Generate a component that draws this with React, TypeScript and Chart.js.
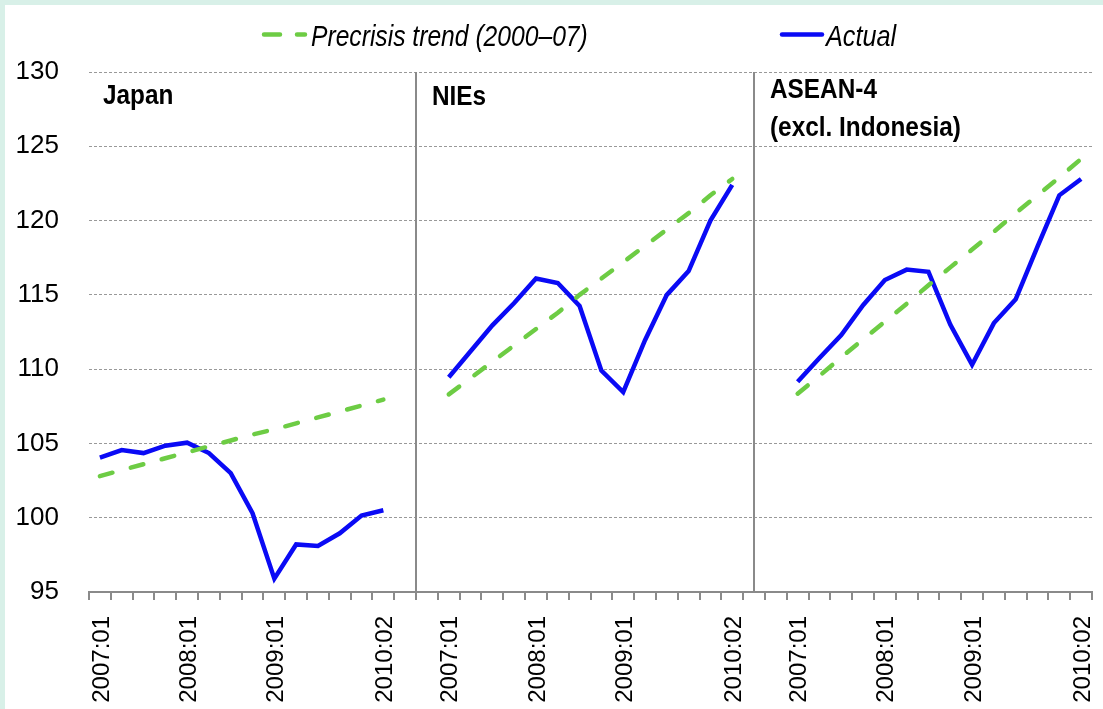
import React, { useEffect, useRef } from "react";
import { Chart, registerables } from "chart.js";

Chart.register(...registerables);

const FONT = "'Liberation Sans', Arial, sans-serif";

// Quarters for each panel
const quarters = [
  "2007:01", "2007:02", "2007:03", "2007:04",
  "2008:01", "2008:02", "2008:03", "2008:04",
  "2009:01", "2009:02", "2009:03", "2009:04",
  "2010:01", "2010:02",
];
const gap = ["", ""];
const categories = [...quarters, ...gap, ...quarters, ...gap, ...quarters];
const shownLabels = ["2007:01", "2008:01", "2009:01", "2010:02"];

const panelTitles = ["Japan", "NIEs", "ASEAN-4", "(excl. Indonesia)"];
const legendLabels = ["Precrisis trend (2000\u201307)", "Actual"];

const japanTrend = [102.8, 103.2, 103.6, 104.0, 104.4, 104.8, 105.2, 105.6, 105.95, 106.35, 106.75, 107.15, 107.55, 107.95];
const japanActual = [104.05, 104.55, 104.35, 104.85, 105.05, 104.35, 103.0, 100.3, 95.9, 98.2, 98.1, 98.95, 100.15, 100.5];
const niesTrend = [108.3, 109.4, 110.5, 111.6, 112.7, 113.8, 115.0, 116.1, 117.2, 118.3, 119.4, 120.5, 121.7, 122.8];
const niesActual = [109.45, 111.2, 112.95, 114.45, 116.1, 115.8, 114.25, 109.9, 108.45, 111.95, 115.0, 116.6, 120.0, 122.4];
const aseanTrend = [108.35, 109.55, 110.8, 112.0, 113.2, 114.4, 115.65, 116.85, 118.05, 119.25, 120.5, 121.7, 122.9, 124.15];
const aseanActual = [109.15, 110.75, 112.3, 114.3, 116.0, 116.7, 116.55, 113.0, 110.3, 113.1, 114.7, 118.25, 121.7, 122.8];

const yTicks = { min: 95, max: 130, step: 5 };

const GREEN = "#6dcc44";
const BLUE = "#0a0af5";
const GRAY = "#8a8a8a";

const nullGap = [null, null];
const trendData = [...japanTrend, ...nullGap, ...niesTrend, ...nullGap, ...aseanTrend];
const actualData = [...japanActual, ...nullGap, ...niesActual, ...nullGap, ...aseanActual];

function condensedText(ctx: CanvasRenderingContext2D, text: string, x: number, y: number, sx: number) {
  ctx.save();
  ctx.translate(x, y);
  ctx.scale(sx, 1);
  ctx.fillText(text, 0, 0);
  ctx.restore();
}

const overlayPlugin = {
  id: "overlay",
  beforeDatasetsDraw(chart: any) {
    const { ctx, chartArea } = chart;
    const xs = chart.scales.x;
    ctx.save();
    ctx.strokeStyle = GRAY;
    ctx.lineWidth = 2;
    [14.5, 30].forEach((v) => {
      const x = Math.round(xs.getPixelForValue(v));
      ctx.beginPath();
      ctx.moveTo(x, chartArea.top);
      ctx.lineTo(x, chartArea.bottom);
      ctx.stroke();
    });
    ctx.restore();
  },
  afterDraw(chart: any) {
    const { ctx } = chart;
    ctx.save();
    // panel titles
    ctx.fillStyle = "#000";
    ctx.textBaseline = "alphabetic";
    ctx.textAlign = "left";
    ctx.font = `bold 28px ${FONT}`;
    condensedText(ctx, panelTitles[0], 98, 99, 0.87);
    condensedText(ctx, panelTitles[1], 427, 100, 0.87);
    condensedText(ctx, panelTitles[2], 765, 93, 0.87);
    condensedText(ctx, panelTitles[3], 765, 131, 0.87);

    // legend
    ctx.lineWidth = 4.5;
    ctx.lineCap = "round";
    ctx.strokeStyle = GREEN;
    ctx.setLineDash([16, 17]);
    ctx.beginPath();
    ctx.moveTo(259, 29.5);
    ctx.lineTo(300, 29.5);
    ctx.stroke();
    ctx.setLineDash([]);
    ctx.strokeStyle = BLUE;
    ctx.beginPath();
    ctx.moveTo(777, 29.5);
    ctx.lineTo(817, 29.5);
    ctx.stroke();
    ctx.font = `italic 29px ${FONT}`;
    ctx.fillStyle = "#000";
    condensedText(ctx, legendLabels[0], 306, 41, 0.85);
    condensedText(ctx, legendLabels[1], 821, 41, 0.87);
    ctx.restore();
  },
};

export default function App() {
  const ref = useRef<HTMLCanvasElement | null>(null);
  useEffect(() => {
    if (!ref.current) return;
    const chart = new Chart(ref.current, {
      type: "line",
      data: {
        labels: categories,
        datasets: [
          {
            label: legendLabels[0],
            data: trendData,
            borderColor: GREEN,
            borderWidth: 4.5,
            borderDash: [13, 19],
            borderCapStyle: "round",
            pointRadius: 0,
            tension: 0,
            spanGaps: false,
            fill: false,
          },
          {
            label: legendLabels[1],
            data: actualData,
            borderColor: BLUE,
            borderWidth: 4.5,
            borderJoinStyle: "miter",
            pointRadius: 0,
            tension: 0,
            spanGaps: false,
            fill: false,
          },
        ],
      },
      options: {
        responsive: false,
        animation: false,
        layout: { padding: { top: 67, right: 11, left: 0, bottom: 0 } },
        plugins: {
          legend: { display: false },
          tooltip: { enabled: false },
          title: { display: false },
        },
        scales: {
          x: {
            type: "category",
            offset: true,
            grid: {
              offset: true,
              drawOnChartArea: false,
              drawTicks: true,
              tickLength: 8,
              tickWidth: 2,
              tickColor: GRAY,
              color: GRAY,
              lineWidth: 2,
            },
            border: { display: true, color: GRAY, width: 2 },
            ticks: {
              autoSkip: false,
              minRotation: 90,
              maxRotation: 90,
              padding: 16,
              labelOffset: 2,
              color: "#000",
              font: { family: FONT, size: 24 },
              callback: (_v: any, i: number) => (shownLabels.includes(categories[i]) ? categories[i] : ""),
            },
            afterFit: (s: any) => {
              s.paddingLeft = 0;
              s.paddingRight = 0;
              s.height = 117;
            },
          },
          y: {
            min: yTicks.min,
            max: yTicks.max,
            ticks: {
              stepSize: yTicks.step,
              padding: 30,
              color: "#000",
              font: { family: FONT, size: 26 },
            },
            grid: { color: "#999", lineWidth: 1, drawTicks: false },
            border: { display: false, dash: [3, 2] },
            afterFit: (s: any) => {
              s.width = 84;
            },
          },
        },
      },
      plugins: [overlayPlugin],
    });
    return () => chart.destroy();
  }, []);

  return (
    <div style={{ position: "absolute", left: 0, top: 0, width: 1103, height: 709, background: "#d8f0e8" }}>
      <canvas
        ref={ref}
        width={1098}
        height={704}
        style={{ position: "absolute", left: 5, top: 5, width: 1098, height: 704, background: "#fff" }}
      />
    </div>
  );
}
